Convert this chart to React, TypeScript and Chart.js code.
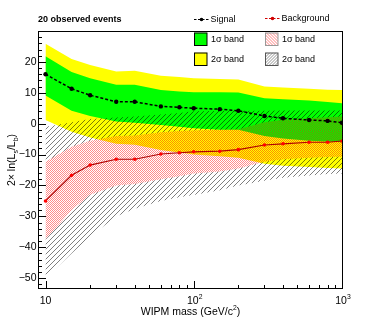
import React, { useEffect, useRef } from 'react';
import { Chart, registerables } from 'chart.js';
Chart.register(...registerables);

const masses = [10, 15, 20, 30, 40, 60, 80, 100, 150, 200, 300, 400, 600, 800, 1000];
const signal = [16.0, 11.3, 9.2, 7.1, 7.1, 5.6, 5.3, 5.0, 4.7, 4.2, 2.5, 1.75, 1.2, 0.9, 0.3];
const signalUp1 = [21.8, 16.7, 14.7, 12.6, 12.6, 10.9, 10.4, 10.2, 10.2, 10.1, 8.2, 7.9, 7.5, 7.0, 6.6];
const signalDn1 = [9.1, 4.2, 2.5, 0.7, 0.3, -0.4, -1.0, -1.5, -2.0, -2.0, -4.0, -4.8, -5.5, -5.8, -6.0];
const signalUp2 = [25.9, 20.9, 19.0, 16.9, 17.1, 15.5, 15.1, 14.7, 14.5, 14.3, 12.0, 11.7, 11.3, 11.0, 10.9];
const signalDn2 = [1.2, -2.6, -4.5, -6.5, -6.8, -8.5, -9.3, -10.0, -10.5, -11.0, -13.0, -13.6, -14.0, -14.3, -14.5];
const background = [-25.0, -16.7, -13.4, -11.5, -11.5, -9.8, -9.4, -9.1, -8.9, -8.4, -6.9, -6.5, -6.0, -6.0, -5.6];
const bkgUp1 = [-12.3, -7.5, -5.5, -4.0, -3.8, -2.8, -2.4, -2.2, -2.0, -1.8, 0.5, 1.3, 1.8, 2.1, 2.3];
const bkgDn1 = [-37.5, -28.0, -23.0, -20.0, -19.5, -18.0, -17.0, -16.1, -15.5, -14.5, -12.3, -11.5, -11.0, -10.8, -10.7];
const bkgUp2 = [-1.0, 0.5, 1.5, 2.0, 2.3, 3.0, 3.5, 4.0, 4.1, 4.2, 4.2, 4.3, 4.3, 4.3, 4.3];
const bkgDn2 = [-50.0, -42.0, -36.5, -30.0, -27.5, -25.0, -23.8, -23.1, -21.5, -20.0, -18.5, -17.5, -16.8, -16.3, -16.1];

const yMajorTicks = [-50, -40, -30, -20, -10, 0, 10, 20];
const xMajorTicks = [10, 100, 1000];
const xMinorTicks = [20, 30, 40, 50, 60, 70, 80, 90, 200, 300, 400, 500, 600, 700, 800, 900];
const xTickExp = ['', '2', '3'];

const FONT = "'Liberation Sans', Arial, Helvetica, sans-serif";

function pts(arr: number[]) {
  return masses.map((m, i) => ({ x: m, y: arr[i] }));
}

function makeChecker(): CanvasPattern | string {
  const c = document.createElement('canvas');
  c.width = 2; c.height = 2;
  const g = c.getContext('2d')!;
  g.fillStyle = 'rgba(255,0,0,0.45)';
  g.fillRect(0, 0, 1, 1);
  g.fillRect(1, 1, 1, 1);
  return g.createPattern(c, 'repeat') || 'rgba(255,0,0,0.25)';
}

function makeHatch(): CanvasPattern | string {
  const c = document.createElement('canvas');
  const n = 5;
  c.width = n; c.height = n;
  const g = c.getContext('2d')!;
  g.fillStyle = 'rgba(0,0,0,0.5)';
  for (let i = 0; i < n; i++) g.fillRect(i, n - 1 - i, 1, 1);
  return g.createPattern(c, 'repeat') || 'rgba(0,0,0,0.2)';
}

function drawSup(ctx: CanvasRenderingContext2D, base: string, sup: string, cx: number, cy: number, size: number, tail = '') {
  ctx.font = `${size}px ${FONT}`;
  const wb = ctx.measureText(base).width;
  const wt = tail ? ctx.measureText(tail).width : 0;
  ctx.font = `${size * 0.65}px ${FONT}`;
  const ws = sup ? ctx.measureText(sup).width : 0;
  const x0 = cx - (wb + ws + wt) / 2;
  ctx.textAlign = 'left';
  ctx.textBaseline = 'middle';
  ctx.font = `${size}px ${FONT}`;
  ctx.fillText(base, x0, cy);
  if (tail) ctx.fillText(tail, x0 + wb + ws, cy);
  if (sup) {
    ctx.font = `${size * 0.65}px ${FONT}`;
    ctx.fillText(sup, x0 + wb, cy - size * 0.4);
  }
}

const rootAxes = {
  id: 'rootAxes',
  afterDraw(chart: any) {
    const { ctx, chartArea: a, scales } = chart;
    const xs = scales.x, ys = scales.y;
    ctx.save();
    ctx.strokeStyle = '#000';
    ctx.fillStyle = '#000';
    ctx.lineWidth = 1;
    ctx.strokeRect(a.left + 0.5, a.top + 0.5, a.right - a.left - 1, a.bottom - a.top - 1);

    // y ticks
    ctx.beginPath();
    for (let v = Math.ceil(ys.min / 2) * 2; v <= ys.max; v += 2) {
      const py = Math.round(ys.getPixelForValue(v)) + 0.5;
      const len = v % 10 === 0 ? 8 : 4;
      ctx.moveTo(a.left, py);
      ctx.lineTo(a.left + len, py);
    }
    // x ticks
    xMajorTicks.forEach((v) => {
      const px = Math.round(xs.getPixelForValue(v)) + 0.5;
      ctx.moveTo(px, a.bottom);
      ctx.lineTo(px, a.bottom - 8);
    });
    xMinorTicks.forEach((v) => {
      const px = Math.round(xs.getPixelForValue(v)) + 0.5;
      ctx.moveTo(px, a.bottom);
      ctx.lineTo(px, a.bottom - 4);
    });
    ctx.stroke();

    // y labels
    ctx.font = `10.5px ${FONT}`;
    ctx.textAlign = 'right';
    ctx.textBaseline = 'middle';
    yMajorTicks.forEach((v) => {
      const py = ys.getPixelForValue(v);
      const s = v < 0 ? '\u2212' + Math.abs(v) : String(v);
      ctx.fillText(s, a.left - 1.5, py);
    });

    // x labels
    xMajorTicks.forEach((v, i) => {
      const px = xs.getPixelForValue(v);
      drawSup(ctx, '10', xTickExp[i], px + (xTickExp[i] ? 1 : 0), a.bottom + 12, 10.5);
    });

    // x title
    drawSup(ctx, 'WIPM mass (GeV/c', '2', (a.left + a.right) / 2, a.bottom + 23, 10.5, ')');

    // y title (rotated)
    ctx.save();
    ctx.translate(12.5, (a.top + a.bottom) / 2);
    ctx.rotate(-Math.PI / 2);
    const parts: [string, boolean][] = [['2\u00d7 ln(L', false], ['s', true], ['/L', false], ['b', true], [')', false]];
    let total = 0;
    parts.forEach(([t, sub]) => {
      ctx.font = `${sub ? 7 : 10.5}px ${FONT}`;
      total += ctx.measureText(t).width;
    });
    let cx = -total / 2;
    ctx.textAlign = 'left';
    ctx.textBaseline = 'middle';
    parts.forEach(([t, sub]) => {
      ctx.font = `${sub ? 7 : 10.5}px ${FONT}`;
      ctx.fillText(t, cx, sub ? 3.5 : 0);
      cx += ctx.measureText(t).width;
    });
    ctx.restore();

    // header text
    ctx.font = `bold 9px ${FONT}`;
    ctx.textAlign = 'left';
    ctx.textBaseline = 'middle';
    ctx.fillText('20 observed events', 38, 19.5);

    // legend: line entries
    const lineEntry = (x0: number, yc: number, color: string, label: string) => {
      ctx.save();
      ctx.strokeStyle = color;
      ctx.lineWidth = 1.2;
      ctx.setLineDash([2.5, 1.5]);
      ctx.beginPath();
      ctx.moveTo(x0, yc);
      ctx.lineTo(x0 + 15, yc);
      ctx.stroke();
      ctx.setLineDash([]);
      ctx.fillStyle = color;
      ctx.beginPath();
      ctx.arc(x0 + 7.5, yc, 1.8, 0, Math.PI * 2);
      ctx.fill();
      ctx.fillStyle = '#000';
      ctx.font = `9px ${FONT}`;
      ctx.textAlign = 'left';
      ctx.textBaseline = 'middle';
      ctx.fillText(label, x0 + 16.5, yc);
      ctx.restore();
    };
    lineEntry(194, 19.5, '#000', 'Signal');
    lineEntry(265, 18.5, '#d00000', 'Background');

    // legend: box entries
    const boxEntry = (x0: number, y0: number, draw: () => void, border: string, label: string) => {
      ctx.save();
      ctx.beginPath();
      ctx.rect(x0, y0, 13, 13);
      ctx.clip();
      draw();
      ctx.restore();
      ctx.strokeStyle = border;
      ctx.lineWidth = 1;
      ctx.strokeRect(x0 + 0.5, y0 + 0.5, 12.5, 12.5);
      ctx.fillStyle = '#000';
      ctx.font = `9px ${FONT}`;
      ctx.textAlign = 'left';
      ctx.textBaseline = 'middle';
      ctx.fillText(label, x0 + 17, y0 + 7);
    };
    const fillRect = (x0: number, y0: number, c: string) => () => {
      ctx.fillStyle = c;
      ctx.fillRect(x0, y0, 13, 13);
    };
    const hatch = (x0: number, y0: number, c: string, dir: number) => () => {
      ctx.fillStyle = '#fff';
      ctx.fillRect(x0, y0, 13, 13);
      ctx.strokeStyle = c;
      ctx.lineWidth = 0.8;
      ctx.beginPath();
      for (let k = -14; k <= 28; k += 3) {
        if (dir > 0) {
          ctx.moveTo(x0 + k, y0 + 13);
          ctx.lineTo(x0 + k + 13, y0);
        } else {
          ctx.moveTo(x0 + k, y0);
          ctx.lineTo(x0 + k + 13, y0 + 13);
        }
      }
      ctx.stroke();
    };
    boxEntry(194, 32.5, fillRect(194, 32.5, '#00ff00'), '#000', '1\u03c3 band');
    boxEntry(194, 52.5, fillRect(194, 52.5, '#ffff00'), '#000', '2\u03c3 band');
    boxEntry(265, 32.5, hatch(265, 32.5, '#ff6060', -1), '#999', '1\u03c3 band');
    boxEntry(265, 52.5, hatch(265, 52.5, '#777', 1), '#555', '2\u03c3 band');

    ctx.restore();
  },
};

export default function App() {
  const ref = useRef<HTMLCanvasElement | null>(null);
  useEffect(() => {
    if (!ref.current) return;
    const checker = makeChecker();
    const hatchP = makeHatch();
    const band = (data: number[], fill: any, color: any, order: number) => ({
      data: pts(data),
      fill,
      backgroundColor: color,
      borderColor: 'transparent',
      borderWidth: 0,
      pointRadius: 0,
      order,
    });
    const chart = new Chart(ref.current, {
      type: 'line',
      data: {
        datasets: [
          band(signalUp2, 1, '#ffff00', 10),
          band(signalDn2, false, 'transparent', 10),
          band(signalUp1, 3, '#00ff00', 9),
          band(signalDn1, false, 'transparent', 9),
          band(bkgUp1, 5, checker, 8),
          band(bkgDn1, false, 'transparent', 8),
          band(bkgUp2, 4, hatchP, 7),
          band(bkgDn2, 5, hatchP, 7),
          {
            data: pts(signal),
            fill: false,
            borderColor: '#000',
            borderWidth: 1.5,
            borderDash: [3, 2],
            pointRadius: 2.2,
            pointBackgroundColor: '#000',
            pointBorderWidth: 0,
            order: 1,
          },
          {
            data: pts(background),
            fill: false,
            borderColor: '#b00000',
            borderWidth: 1.2,
            pointRadius: 1.8,
            pointBackgroundColor: '#ff0000',
            pointBorderWidth: 0,
            order: 1,
          },
        ] as any,
      },
      options: {
        animation: false,
        responsive: false,
        maintainAspectRatio: false,
        layout: { padding: { left: 38, top: 31, right: 39, bottom: 33 } },
        plugins: { legend: { display: false }, tooltip: { enabled: false } },
        elements: { line: { tension: 0 } },
        scales: {
          x: { type: 'logarithmic', min: 8.9, max: 1016, display: false },
          y: { type: 'linear', min: -53.5, max: 30, display: false },
        },
      } as any,
      plugins: [rootAxes],
    });
    return () => chart.destroy();
  }, []);
  return (
    <div style={{ position: 'fixed', left: 0, top: 0, width: 382, height: 322, background: '#fff' }}>
      <canvas ref={ref} width={382} height={322} style={{ width: 382, height: 322, display: 'block' }} />
    </div>
  );
}
